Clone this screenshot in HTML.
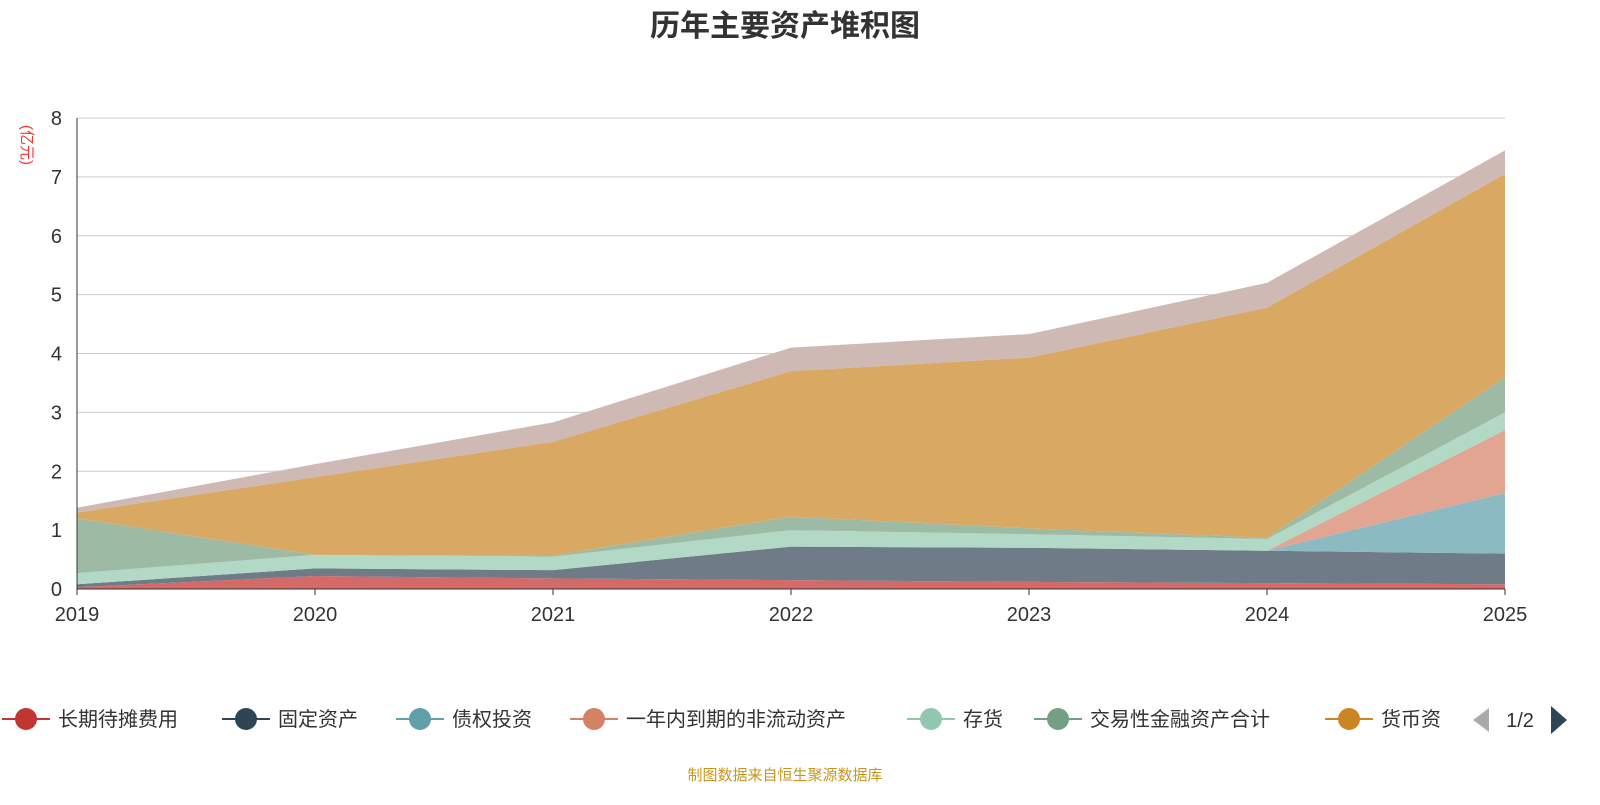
<!DOCTYPE html>
<html><head><meta charset="utf-8">
<style>
body{margin:0;background:#fff;font-family:"Liberation Sans","Noto Sans CJK SC",sans-serif;}
svg text{font-family:"Liberation Sans","Noto Sans CJK SC",sans-serif;}
</style></head>
<body>
<svg id="chart" width="1600" height="800">
<text x="785" y="36" text-anchor="middle" font-size="30" font-weight="bold" fill="#333">历年主要资产堆积图</text>
<text x="22" y="145" font-size="15" fill="#e33" transform="rotate(90 22 145)" text-anchor="middle">(亿元)</text>
<g id="grid"></g><g id="areas"></g><g id="axes"></g><g id="legend"></g>
<text x="785" y="780" text-anchor="middle" font-size="15" fill="#c8961e">制图数据来自恒生聚源数据库</text>
</svg>
<script>
const years=["2019","2020","2021","2022","2023","2024","2025"];
const yTicks=[0,1,2,3,4,5,6,7,8];
const seriesNames=["长期待摊费用","固定资产","债权投资","一年内到期的非流动资产","存货","交易性金融资产合计","货币资金","其他"];
const s1=[0.03,0.22,0.18,0.15,0.12,0.10,0.08];
const s2=[0.05,0.13,0.14,0.57,0.58,0.55,0.52];
const s3=[0,0,0,0,0,0,1.03];
const s4=[0,0,0,0,0,0,1.07];
const s5=[0.19,0.23,0.23,0.28,0.23,0.20,0.30];
const s6=[0.93,0,0.02,0.23,0.10,0.02,0.60];
const s7=[0.10,1.32,1.93,2.47,2.90,3.91,3.45];
const s8=[0.08,0.22,0.33,0.40,0.40,0.42,0.40];
const allSeries=[s1,s2,s3,s4,s5,s6,s7,s8];
const fills=["#d46a68","#6f7c87","#8bbac3","#e2a592","#b1d9c5","#9dbaa5","#d9a862","#cfb9b5"];
const legendColors=["#c23531","#2f4554","#61a0a8","#d48265","#91c7ae","#749f83","#ca8622"];
const NS="http://www.w3.org/2000/svg";
const x0=77,x1=1505,y0=589,y1=118;
const xs=i=>x0+(x1-x0)*i/(years.length-1);
const ys=v=>y0-(y0-y1)*v/8;
function mk(tag,attrs,parent){const e=document.createElementNS(NS,tag);for(const k in attrs)e.setAttribute(k,attrs[k]);parent.appendChild(e);return e;}
const grid=document.getElementById('grid'),areas=document.getElementById('areas'),axes=document.getElementById('axes'),legend=document.getElementById('legend');
yTicks.forEach(t=>{
 const l=mk('line',{x1:x0,x2:x1,y1:ys(t),y2:ys(t),stroke:t===0?'#333':'#ccc','stroke-width':1},grid);
 
 
 const tx=mk('text',{x:62,y:ys(t)+7,'text-anchor':'end','font-size':20,fill:'#333'},axes);
 tx.textContent=t;
 
 
});
let cum=years.map(()=>0);
allSeries.forEach((s,si)=>{
 const bot=cum.slice();const top=cum.map((c,i)=>c+s[i]);cum=top;
 let d='M'+years.map((y,i)=>xs(i)+','+ys(top[i])).join(' L');
 for(let i=years.length-1;i>=0;i--)d+=' L'+xs(i)+','+ys(bot[i]);
 const p=mk('path',{d:d+'Z',fill:fills[si],stroke:'none'},areas);
 
 
});
mk('line',{x1:x0,x2:x0,y1:y1,y2:y0,stroke:'#333'},axes);
mk('line',{x1:x0,x2:x1,y1:y0,y2:y0,stroke:'#333'},axes);
years.forEach((y,i)=>{
 mk('line',{x1:xs(i),x2:xs(i),y1:y0,y2:y0+6,stroke:'#333'},axes);
 const t=mk('text',{x:xs(i),y:621,'text-anchor':'middle','font-size':20,fill:'#333'},axes);
 t.textContent=y;
 
 
});
const lx=[2,222,396,570,907,1034,1325];
const labels=["长期待摊费用","固定资产","债权投资","一年内到期的非流动资产","存货","交易性金融资产合计","货币资"];
labels.forEach((n,i)=>{
 const g=mk('g',{},legend);
 
 
 mk('line',{x1:lx[i],x2:lx[i]+48,y1:719,y2:719,stroke:legendColors[i],'stroke-width':2},g);
 mk('circle',{cx:lx[i]+24,cy:719,r:11,fill:legendColors[i]},g);
 const t=mk('text',{x:lx[i]+56,y:726,'font-size':20,fill:'#333'},g);
 t.textContent=n;
});
const pl=mk('path',{d:'M1489,708 L1489,732 L1473,720Z',fill:'#aaa'},legend);


const pt=mk('text',{x:1520,y:727,'text-anchor':'middle','font-size':20,fill:'#333'},legend);
pt.textContent='1/2';


const pn=mk('path',{d:'M1551,706 L1551,734 L1567,720Z',fill:'#2f4554'},legend);


</script>
</body></html>
